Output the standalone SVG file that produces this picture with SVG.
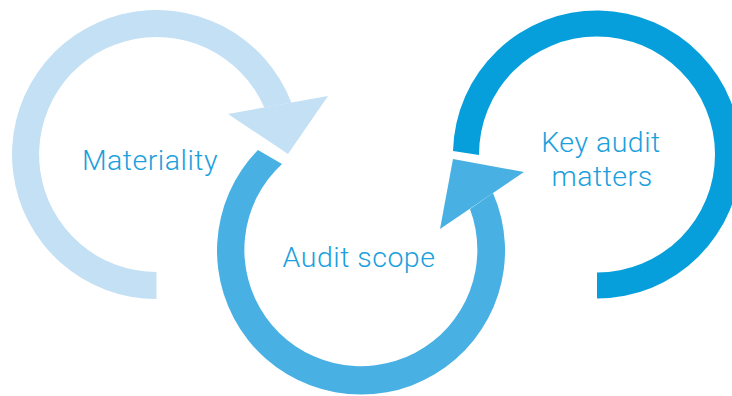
<svg xmlns="http://www.w3.org/2000/svg" width="732" height="396" viewBox="0 0 732 396">
  <style>
    .lbl { font-family: Roboto, "Open Sans", "Liberation Sans", sans-serif; font-size: 28.5px; font-weight: 300; letter-spacing: 0.5px; fill: #1AA0DC; text-anchor: middle; }
    .c1 { fill: #C4E0F4; }
    .c2 { fill: #48B0E3; }
    .c3 { fill: #079FDB; }
  </style>
  <rect width="732" height="396" fill="#FFFFFF"/>
  <g id="node-materiality">
    <path class="c1" d="M156.5,299 A144.5,144.5 0 1 1 291.4,102.7 L264.3,107.5 A117.5,117.5 0 1 0 156.5,272 Z"/>
    <text class="lbl" x="150" y="170">Materiality</text>
  </g>
  <g id="node-audit-scope">
    <path class="c2" d="M258,150 A144,144 0 1 0 493,193 L470,209 A116.5,116.5 0 1 1 282,164 Z"/>
    <text class="lbl" x="359" y="267">Audit scope</text>
  </g>
  <g id="node-key-audit-matters">
    <path class="c3" d="M453,151 A144,144 0 1 1 597,298.5 L597,272.5 A118,118 0 1 0 479,155 Z"/>
    <text class="lbl" x="601" y="152">Key audit</text>
    <text class="lbl" x="602" y="185.5">matters</text>
  </g>
  <g id="connectors">
    <polygon class="c1" points="228,114 328,96 288,154"/>
    <polygon class="c2" points="453,159 524,172 440,229"/>
  </g>
</svg>
